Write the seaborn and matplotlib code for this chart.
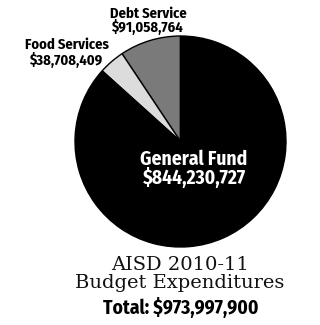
import matplotlib
matplotlib.use("Agg")
import matplotlib.pyplot as plt
import seaborn as sns

categories = ["Debt Service", "Food Services", "General Fund"]
values = [91058764, 38708409, 844230727]
value_labels = ["$91,058,764", "$38,708,409", "$844,230,727"]
total_label = "Total: $973,997,900"
title_lines = ["AISD 2010-11", "Budget Expenditures"]

sns.set_theme(style="white")
plt.rcParams["font.family"] = ["Fira Sans Condensed", "DejaVu Sans"]

W, H = 320, 325
fig = plt.figure(figsize=(W / 100, H / 100), dpi=100)
fig.patch.set_facecolor("white")

cx, cy, r = 180.5, 141.5, 105.5
ax = fig.add_axes([(cx - r) / W, 1 - (cy + r) / H, 2 * r / W, 2 * r / H])
colors = ["#7a7a7a", "#dcdcdc", "#000000"]
ax.pie(values, colors=colors, startangle=90, counterclock=True,
       wedgeprops=dict(edgecolor="black", linewidth=1.0))
ax.set_xlim(-1, 1)
ax.set_ylim(-1, 1)
ax.set_aspect("auto")
ax.axis("off")

def ft(x, y, s, **kw):
    fig.text(x / W, 1 - y / H, s, ha="center", va="center", multialignment="center", **kw)

ft(148, 21, categories[0] + "\n" + value_labels[0], fontsize=10.5, weight="bold",
   color="black", linespacing=0.88)
ft(67, 53, categories[1] + "\n" + value_labels[1], fontsize=10.5, weight="bold",
   color="black", linespacing=0.95)
ft(194, 169, categories[2] + "\n" + value_labels[2], fontsize=14, weight="bold",
   color="white", linespacing=0.92)

ft(180, 274, title_lines[0] + "\n" + title_lines[1], fontsize=14,
   family=["DejaVu Serif"], color="#111111", linespacing=1.05)
ft(181, 308, total_label, fontsize=14, weight="bold", color="black")

fig.savefig("out.png", dpi=100, facecolor="white")
